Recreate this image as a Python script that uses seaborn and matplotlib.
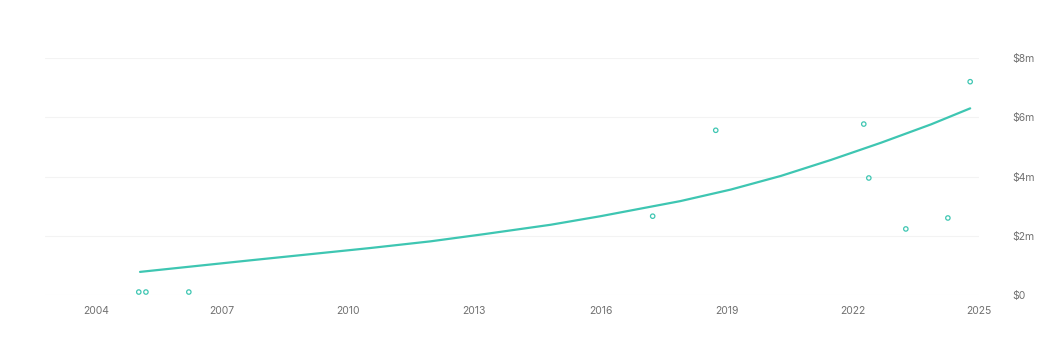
import matplotlib
matplotlib.use("Agg")
import matplotlib.pyplot as plt
import seaborn as sns
import pandas as pd
from matplotlib.ticker import FuncFormatter

# Data
point_years = [2005.02, 2005.19, 2006.21, 2017.24, 2018.74, 2022.26, 2022.38, 2023.26, 2024.26, 2024.79]
point_values = [0.10, 0.10, 0.10, 2.66, 5.56, 5.77, 3.95, 2.23, 2.60, 7.20]  # $m

trend_years = [2005.05, 2007.67, 2010.52, 2011.95, 2013.26, 2014.81, 2016.00,
               2017.90, 2019.10, 2020.29, 2021.48, 2022.67, 2023.86, 2024.79]
trend_values = [0.78, 1.17, 1.585, 1.81, 2.06, 2.37, 2.66,
                3.17, 3.56, 4.02, 4.56, 5.14, 5.76, 6.30]  # $m

x_ticks = [2004, 2007, 2010, 2013, 2016, 2019, 2022, 2025]
y_ticks = [0, 2, 4, 6, 8]

teal = "#3ec6b2"
grey = "#707070"

sns.set_theme(style="white")
plt.rcParams["font.family"] = ["Inter", "DejaVu Sans"]

fig = plt.figure(figsize=(10.44, 3.53), dpi=100)
ax = fig.add_axes([45 / 1044, 58 / 353, (979 - 45) / 1044, (295 - 58) / 353])

pts = pd.DataFrame({"year": point_years, "value": point_values})
trend = pd.DataFrame({"year": trend_years, "value": trend_values})

sns.lineplot(data=trend, x="year", y="value", ax=ax, color=teal, linewidth=1.6, zorder=3)
sns.scatterplot(data=pts, x="year", y="value", ax=ax, s=10, facecolor="none",
                edgecolor=teal, linewidth=0.9, zorder=4)

ax.set_xlim(2002.79, 2025.0)
ax.set_ylim(0, 8)
ax.set_xticks(x_ticks)
ax.set_yticks(y_ticks)
ax.yaxis.tick_right()
ax.yaxis.set_major_formatter(FuncFormatter(lambda v, p: "$0" if v == 0 else f"${int(v)}m"))
ax.tick_params(axis="both", length=0, labelsize=7.5, colors=grey)
ax.tick_params(axis="y", pad=24)
ax.tick_params(axis="x", pad=8)
for lab in ax.get_yticklabels():
    lab.set_horizontalalignment("left")

ax.grid(axis="y", color="#f3f3f3", linewidth=0.8)
ax.grid(axis="x", visible=False)
for s in ax.spines.values():
    s.set_visible(False)
ax.set_xlabel("")
ax.set_ylabel("")

fig.savefig("out.png", dpi=100, facecolor="white")
